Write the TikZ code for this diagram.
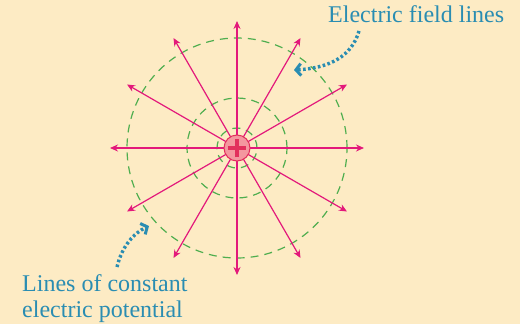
\documentclass[tikz,border=0pt]{standalone}
\usepackage{fontspec}
\setmainfont{Liberation Serif}
\newfontfamily\notefont{Liberation Serif}
\usetikzlibrary{positioning,arrows.meta}
\definecolor{paper}{HTML}{FDEBC4}
\definecolor{fieldred}{HTML}{E3197B}
\definecolor{potgreen}{HTML}{4FAE4F}
\definecolor{notecol}{HTML}{2A8DB2}
\definecolor{chargefill}{HTML}{F4979F}
\definecolor{chargeline}{HTML}{E2305C}

\begin{document}
\begin{tikzpicture}[
  x=1pt,y=-1pt,
  fieldline/.style={draw=fieldred,line width=1.2pt,-{Stealth[length=8pt,width=7pt]}},
  equipot/.style={draw=potgreen,line width=1.2pt,dash pattern=on 8pt off 6pt},
  charge/.style={circle,draw=chargeline,fill=chargefill,line width=1pt,minimum size=26pt,inner sep=0pt},
  note/.style={text=notecol,font=\notefont\fontsize{24}{26}\selectfont,inner sep=0pt,anchor=base west},
  pointer/.style={draw=notecol,line width=3.4pt,dash pattern=on 2.6pt off 2.4pt,
    -{Straight Barb[length=5pt,width=12pt,line width=3pt]}}
]
\fill[paper] (0,0) rectangle (520,324);
\useasboundingbox (0,0) rectangle (520,324);
\coordinate (q) at (237,148);
% equipotential circles
\foreach \r in {20,50,110}
  \draw[equipot] (q) circle (\r pt);
% field lines
\foreach \a in {0,30,...,330}{
  \path (q) ++(\a:127pt) coordinate (f\a);
  \draw[fieldline] (q) -- (f\a);
}
\node[charge] (plus) at (q) {};
\draw[chargeline,line width=3.2pt] ([xshift=-9pt]plus.center) -- ([xshift=9pt]plus.center);
\draw[chargeline,line width=3.2pt] ([yshift=-9pt]plus.center) -- ([yshift=9pt]plus.center);
% labels
\node[note] (fieldlbl) at (328,23) {Electric field lines};
\node[note] (potlbl) at (22,291) {Lines of constant};
\node[note,below=26pt of potlbl.base west,anchor=base west] (potlbl2) {electric potential};
\coordinate (fieldtip) at (294,70);
\coordinate (pottip) at (149,226);
\draw[pointer] (359,31) .. controls (352,56) and (330,68) .. (fieldtip);
\draw[pointer] (117,267) .. controls (122,246) and (134,233) .. (pottip);
\end{tikzpicture}
\end{document}
